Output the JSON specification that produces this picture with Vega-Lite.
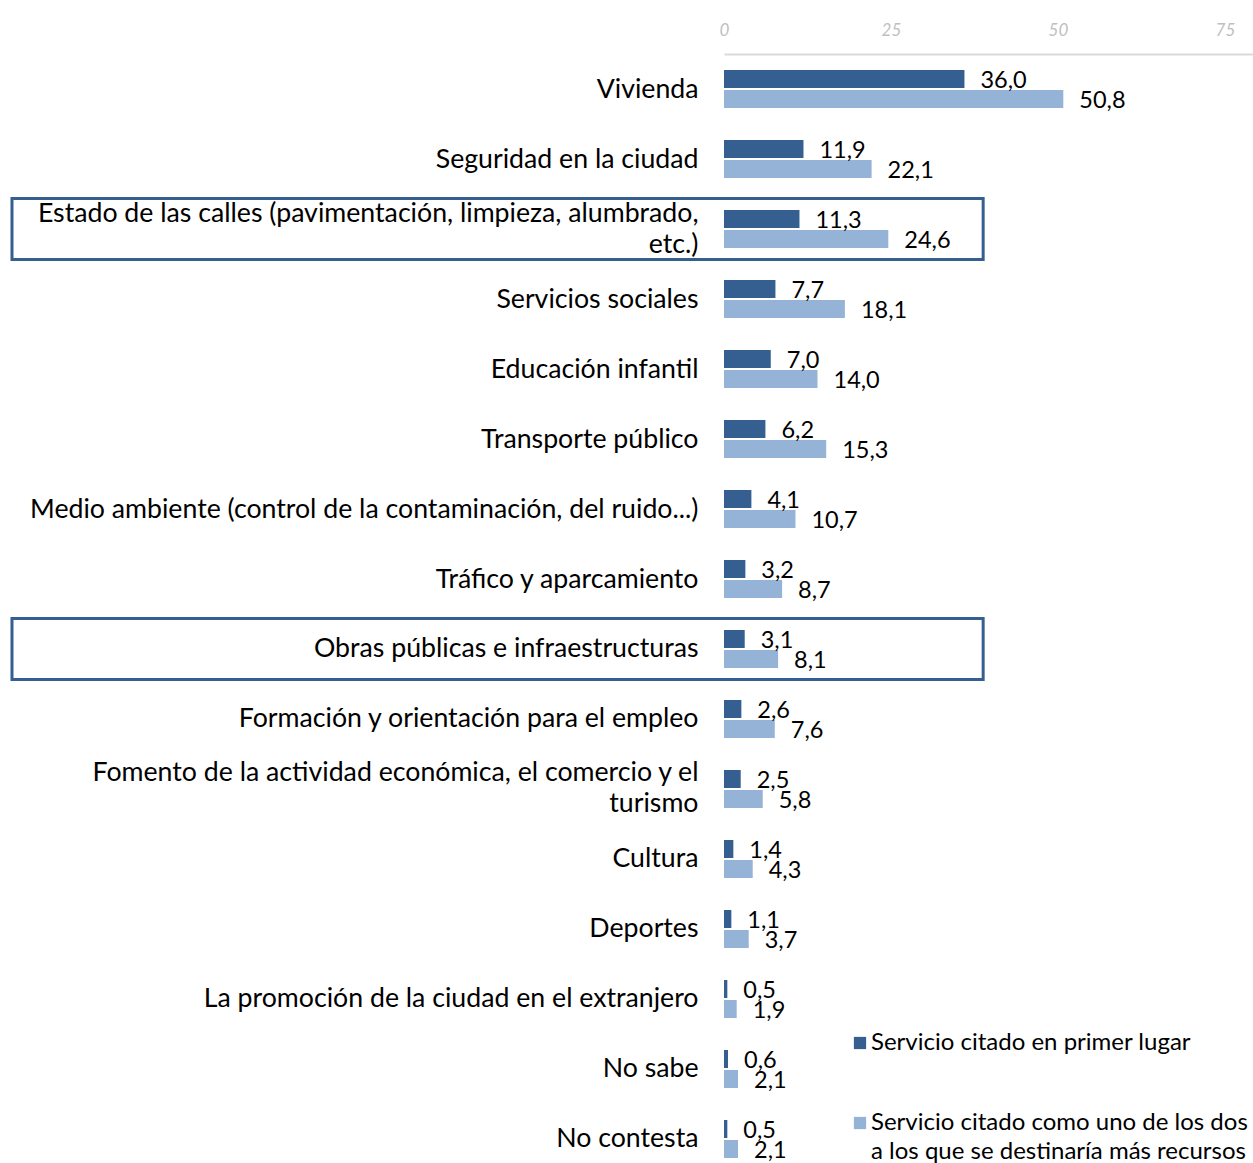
{
  "$schema": "https://vega.github.io/schema/vega-lite/v6.json",
  "width": 529,
  "height": 1109,
  "autosize": {"type": "none"},
  "padding": {"left": 724, "top": 54, "right": 0, "bottom": 0},
  "background": "white",
  "config": {
    "view": {"stroke": null},
    "font": "Lato",
    "locale": {"number": {"decimal": ",", "thousands": ".", "grouping": [3], "currency": ["", " €"]}}
  },
  "datasets": {
    "respuestas": [
      {"servicio": "Vivienda", "serie": "Servicio citado en primer lugar", "valor": 36.0},
      {"servicio": "Vivienda", "serie": "Servicio citado como uno de los dos a los que se destinaría más recursos", "valor": 50.8},
      {"servicio": "Seguridad en la ciudad", "serie": "Servicio citado en primer lugar", "valor": 11.9},
      {"servicio": "Seguridad en la ciudad", "serie": "Servicio citado como uno de los dos a los que se destinaría más recursos", "valor": 22.1},
      {"servicio": "Estado de las calles (pavimentación, limpieza, alumbrado, etc.)", "serie": "Servicio citado en primer lugar", "valor": 11.3},
      {"servicio": "Estado de las calles (pavimentación, limpieza, alumbrado, etc.)", "serie": "Servicio citado como uno de los dos a los que se destinaría más recursos", "valor": 24.6},
      {"servicio": "Servicios sociales", "serie": "Servicio citado en primer lugar", "valor": 7.7},
      {"servicio": "Servicios sociales", "serie": "Servicio citado como uno de los dos a los que se destinaría más recursos", "valor": 18.1},
      {"servicio": "Educación infantil", "serie": "Servicio citado en primer lugar", "valor": 7.0},
      {"servicio": "Educación infantil", "serie": "Servicio citado como uno de los dos a los que se destinaría más recursos", "valor": 14.0},
      {"servicio": "Transporte público", "serie": "Servicio citado en primer lugar", "valor": 6.2},
      {"servicio": "Transporte público", "serie": "Servicio citado como uno de los dos a los que se destinaría más recursos", "valor": 15.3},
      {"servicio": "Medio ambiente (control de la contaminación, del ruido...)", "serie": "Servicio citado en primer lugar", "valor": 4.1},
      {"servicio": "Medio ambiente (control de la contaminación, del ruido...)", "serie": "Servicio citado como uno de los dos a los que se destinaría más recursos", "valor": 10.7},
      {"servicio": "Tráfico y aparcamiento", "serie": "Servicio citado en primer lugar", "valor": 3.2},
      {"servicio": "Tráfico y aparcamiento", "serie": "Servicio citado como uno de los dos a los que se destinaría más recursos", "valor": 8.7},
      {"servicio": "Obras públicas e infraestructuras", "serie": "Servicio citado en primer lugar", "valor": 3.1},
      {"servicio": "Obras públicas e infraestructuras", "serie": "Servicio citado como uno de los dos a los que se destinaría más recursos", "valor": 8.1},
      {"servicio": "Formación y orientación para el empleo", "serie": "Servicio citado en primer lugar", "valor": 2.6},
      {"servicio": "Formación y orientación para el empleo", "serie": "Servicio citado como uno de los dos a los que se destinaría más recursos", "valor": 7.6},
      {"servicio": "Fomento de la actividad económica, el comercio y el turismo", "serie": "Servicio citado en primer lugar", "valor": 2.5},
      {"servicio": "Fomento de la actividad económica, el comercio y el turismo", "serie": "Servicio citado como uno de los dos a los que se destinaría más recursos", "valor": 5.8},
      {"servicio": "Cultura", "serie": "Servicio citado en primer lugar", "valor": 1.4},
      {"servicio": "Cultura", "serie": "Servicio citado como uno de los dos a los que se destinaría más recursos", "valor": 4.3},
      {"servicio": "Deportes", "serie": "Servicio citado en primer lugar", "valor": 1.1},
      {"servicio": "Deportes", "serie": "Servicio citado como uno de los dos a los que se destinaría más recursos", "valor": 3.7},
      {"servicio": "La promoción de la ciudad en el extranjero", "serie": "Servicio citado en primer lugar", "valor": 0.5},
      {"servicio": "La promoción de la ciudad en el extranjero", "serie": "Servicio citado como uno de los dos a los que se destinaría más recursos", "valor": 1.9},
      {"servicio": "No sabe", "serie": "Servicio citado en primer lugar", "valor": 0.6},
      {"servicio": "No sabe", "serie": "Servicio citado como uno de los dos a los que se destinaría más recursos", "valor": 2.1},
      {"servicio": "No contesta", "serie": "Servicio citado en primer lugar", "valor": 0.5},
      {"servicio": "No contesta", "serie": "Servicio citado como uno de los dos a los que se destinaría más recursos", "valor": 2.1}
    ],
    "destacados": [
      {"servicio": "Estado de las calles (pavimentación, limpieza, alumbrado, etc.)"},
      {"servicio": "Obras públicas e infraestructuras"}
    ]
  },
  "encoding": {
    "y": {
      "field": "servicio",
      "type": "nominal",
      "sort": [
        "Vivienda",
        "Seguridad en la ciudad",
        "Estado de las calles (pavimentación, limpieza, alumbrado, etc.)",
        "Servicios sociales",
        "Educación infantil",
        "Transporte público",
        "Medio ambiente (control de la contaminación, del ruido...)",
        "Tráfico y aparcamiento",
        "Obras públicas e infraestructuras",
        "Formación y orientación para el empleo",
        "Fomento de la actividad económica, el comercio y el turismo",
        "Cultura",
        "Deportes",
        "La promoción de la ciudad en el extranjero",
        "No sabe",
        "No contesta"
      ],
      "scale": {"range": [0, 1120], "paddingInner": 0.457, "paddingOuter": 0.2286},
      "axis": {
        "title": null,
        "domain": false,
        "ticks": false,
        "tickSize": 0,
        "labelPadding": 26,
        "labelFontSize": 26.7,
        "labelColor": "#000000",
        "labelFont": "Lato",
        "labelLimit": 720,
        "labelLineHeight": 31,
        "labelOffset": {
          "condition": {
            "test": "datum.value == 'Estado de las calles (pavimentación, limpieza, alumbrado, etc.)' || datum.value == 'Fomento de la actividad económica, el comercio y el turismo'",
            "value": -15.5
          },
          "value": 0.5
        },
        "labelExpr": "datum.value == 'Estado de las calles (pavimentación, limpieza, alumbrado, etc.)' ? ['Estado de las calles (pavimentación, limpieza, alumbrado,', 'etc.)'] : datum.value == 'Fomento de la actividad económica, el comercio y el turismo' ? ['Fomento de la actividad económica, el comercio y el', 'turismo'] : datum.label"
      }
    }
  },
  "layer": [
    {
      "data": {"name": "destacados"},
      "mark": {"type": "bar", "height": 61, "filled": false, "stroke": "#365F91", "strokeWidth": 3, "clip": false},
      "encoding": {
        "x": {"datum": -106.6, "type": "quantitative"},
        "x2": {"datum": 38.8}
      }
    },
    {
      "data": {"name": "respuestas"},
      "mark": {"type": "bar"},
      "encoding": {
        "x": {
          "field": "valor",
          "type": "quantitative",
          "scale": {"domain": [0, 79.2], "nice": false, "zero": true},
          "axis": {
            "orient": "top",
            "title": null,
            "values": [0, 25, 50, 75],
            "grid": false,
            "ticks": false,
            "tickSize": 0,
            "labelFlush": false,
            "labelPadding": 15,
            "labelFontSize": 17,
            "labelFontStyle": "italic",
            "labelColor": "#BFBFBF",
            "labelFont": "Lato",
            "domainColor": "#D9D9D9",
            "domainWidth": 2
          }
        },
        "yOffset": {
          "field": "serie",
          "scale": {"domain": ["Servicio citado en primer lugar", "Servicio citado como uno de los dos a los que se destinaría más recursos"], "paddingInner": 0.1, "paddingOuter": 0}
        },
        "color": {
          "field": "serie",
          "type": "nominal",
          "scale": {
            "domain": ["Servicio citado en primer lugar", "Servicio citado como uno de los dos a los que se destinaría más recursos"],
            "range": ["#365F91", "#95B3D7"]
          },
          "legend": {
            "orient": "none",
            "legendX": 124,
            "legendY": 977,
            "title": null,
            "symbolType": "square",
            "symbolSize": 150,
            "symbolStrokeWidth": 0,
            "labelFontSize": 24,
            "labelFont": "Lato",
            "labelColor": "#000000",
            "labelOffset": -1,
            "labelLimit": 600,
            "rowPadding": 56,
            "labelExpr": "datum.value == 'Servicio citado como uno de los dos a los que se destinaría más recursos' ? ['Servicio citado como uno de los dos', 'a los que se destinaría más recursos'] : datum.label",
            "encode": {"labels": {"update": {"lineHeight": {"value": 29}}}}
          }
        }
      }
    },
    {
      "data": {"name": "respuestas"},
      "mark": {"type": "text", "align": "left", "baseline": "middle", "dx": 16, "dy": 2, "fontSize": 23.5, "color": "#000000", "font": "Lato"},
      "encoding": {
        "x": {"field": "valor", "type": "quantitative"},
        "yOffset": {"field": "serie"},
        "text": {"field": "valor", "type": "quantitative", "format": ".1f"}
      }
    }
  ]
}
